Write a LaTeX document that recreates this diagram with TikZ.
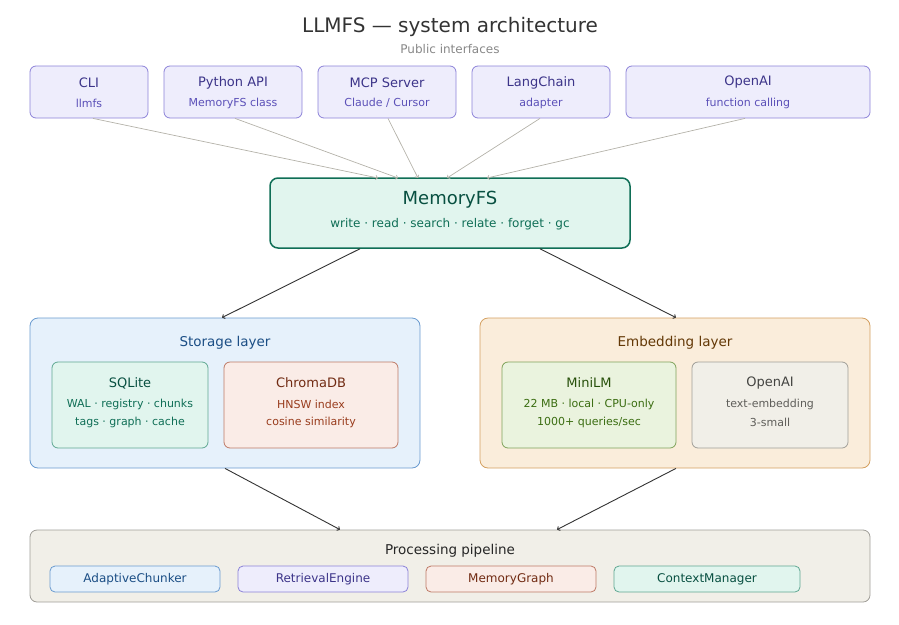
\documentclass[tikz,border=0pt]{standalone}
\usepackage{fontspec}
\setmainfont{DejaVu Sans}
\usetikzlibrary{arrows.meta}
\definecolor{purpfill}{HTML}{EEEDFC}
\definecolor{purpline}{HTML}{8C82D8}
\definecolor{purptext}{HTML}{3C3489}
\definecolor{purpsub}{HTML}{5B50B8}
\definecolor{tealfill}{HTML}{E1F5EE}
\definecolor{tealline}{HTML}{0F6E56}
\definecolor{tealline2}{HTML}{5FA892}
\definecolor{tealtext}{HTML}{085041}
\definecolor{tealsub}{HTML}{0F6E56}
\definecolor{bluefill}{HTML}{E6F1FB}
\definecolor{blueline}{HTML}{6A9BD0}
\definecolor{bluetext}{HTML}{1B4E85}
\definecolor{corfill}{HTML}{FAECE7}
\definecolor{corline}{HTML}{BE7A66}
\definecolor{cortext}{HTML}{712B13}
\definecolor{corsub}{HTML}{993C1D}
\definecolor{ambfill}{HTML}{FAEDDB}
\definecolor{ambline}{HTML}{D4A060}
\definecolor{ambtext}{HTML}{633806}
\definecolor{grnfill}{HTML}{EAF3DE}
\definecolor{grnline}{HTML}{7FA25A}
\definecolor{grntext}{HTML}{27500A}
\definecolor{grnsub}{HTML}{3B6D11}
\definecolor{grayfill}{HTML}{F1EFE8}
\definecolor{grayline}{HTML}{A09E98}
\definecolor{graytext}{HTML}{444441}
\definecolor{graysub}{HTML}{5F5E5A}
\definecolor{conn}{HTML}{B4B2A9}
\definecolor{darkconn}{HTML}{333333}
\tikzset{
  bx/.style={draw, rounded corners=6pt, line width=0.8pt, inner sep=0pt},
  ttl/.style={inner sep=0pt, font=\fontsize{13}{15}\selectfont},
  sub/.style={inner sep=0pt, font=\fontsize{11}{13}\selectfont},
  lite/.style={draw=conn, line width=0.7pt, -{Straight Barb[length=2pt,width=4.5pt]}},
  dark/.style={draw=darkconn, line width=0.9pt, -{Straight Barb[length=2pt,width=4.5pt]}},
}
\begin{document}
\begin{tikzpicture}[x=1pt,y=-1pt]
\useasboundingbox (0,0) rectangle (899,624);
% title
\node[inner sep=0pt, text=black!80, font=\fontsize{20}{24}\selectfont] (title) at (450,27) {LLMFS — system architecture};
\node[inner sep=0pt, text=black!47, font=\fontsize{12}{14}\selectfont] (subtitle) at (450,49.5) {Public interfaces};
% top interface boxes
\foreach \nm/\xa/\xb/\t/\s in {cli/30/148/CLI/llmfs, py/164/302/Python API/MemoryFS class, mcp/318/456/MCP Server/{Claude / Cursor}, lc/472/610/LangChain/adapter, oai/626/870/OpenAI/function calling}{
  \node[bx, draw=purpline, fill=purpfill, minimum width={\xb-\xa}, minimum height=52] (\nm) at ({(\xa+\xb)/2},92) {};
  \node[ttl, text=purptext] (\nm t) at ({(\xa+\xb)/2},82.5) {\t};
  \node[sub, text=purpsub] (\nm s) at ({(\xa+\xb)/2},103) {\s};
}
% MemoryFS
\node[bx, draw=tealline, fill=tealfill, line width=1.5pt, rounded corners=8pt, minimum width=360, minimum height=70] (mfs) at (450,213) {};
\node[inner sep=0pt, text=tealtext, font=\fontsize{18}{21}\selectfont] (mfst) at (450,200) {MemoryFS};
\node[inner sep=0pt, text=tealsub, font=\fontsize{12}{14}\selectfont] (mfss) at (450,224) {write · read · search · relate · forget · gc};
\coordinate (in1) at (378,178);
\coordinate (in2) at (398,178);
\coordinate (in3) at (418,178);
\coordinate (in4) at (447,178);
\coordinate (in5) at (487,178);
\draw[lite] (cli.south -| 93,0) -- (in1);
\draw[lite] (py.south -| 235,0) -- (in2);
\draw[lite] (mcp.south -| 388,0) -- (in3);
\draw[lite] (lc.south -| 540,0) -- (in4);
\draw[lite] (oai.south -| 745,0) -- (in5);
% Storage layer
\node[bx, draw=blueline, fill=bluefill, rounded corners=8pt, minimum width=390, minimum height=150] (stor) at (225,393) {};
\node[ttl, text=bluetext, font=\fontsize{13.5}{16}\selectfont] (stort) at (225,343) {Storage layer};
\node[bx, draw=tealline2, fill=tealfill, minimum width=156, minimum height=86] (sql) at (130,405) {};
\node[ttl, text=tealtext] (sqlt) at (130,383) {SQLite};
\node[sub, text=tealsub] (sqls1) at (130,404.5) {WAL · registry · chunks};
\node[sub, text=tealsub] (sqls2) at (130,422.5) {tags · graph · cache};
\node[bx, draw=corline, fill=corfill, minimum width=174, minimum height=86] (chr) at (311,405) {};
\node[ttl, text=cortext] (chrt) at (311,383) {ChromaDB};
\node[sub, text=corsub] (chrs1) at (311,404.5) {HNSW index};
\node[sub, text=corsub] (chrs2) at (311,422.5) {cosine similarity};
% Embedding layer
\node[bx, draw=ambline, fill=ambfill, rounded corners=8pt, minimum width=390, minimum height=150] (emb) at (675,393) {};
\node[ttl, text=ambtext, font=\fontsize{13.5}{16}\selectfont] (embt) at (675,343) {Embedding layer};
\node[bx, draw=grnline, fill=grnfill, minimum width=174, minimum height=86] (mini) at (589,405) {};
\node[ttl, text=grntext] (minit) at (589,383) {MiniLM};
\node[sub, text=grnsub] (minis1) at (589,404.5) {22 MB · local · CPU-only};
\node[sub, text=grnsub] (minis2) at (589,422.5) {1000+ queries/sec};
\node[bx, draw=grayline, fill=grayfill, minimum width=156, minimum height=86] (oemb) at (770,405) {};
\node[ttl, text=graytext] (oembt) at (770,383) {OpenAI};
\node[sub, text=graysub] (oembs1) at (770,404.5) {text-embedding};
\node[sub, text=graysub] (oembs2) at (770,422.5) {3-small};
% connectors MemoryFS -> layers
\draw[dark] (mfs.south -| 360,0) -- (stor.north -| 222,0);
\draw[dark] (mfs.south -| 540,0) -- (emb.north -| 676,0);
% Pipeline
\node[bx, draw=grayline, fill=grayfill, rounded corners=7pt, minimum width=840, minimum height=72] (pipe) at (450,566) {};
\node[ttl, text=black!85, font=\fontsize{13.5}{16}\selectfont] (pipet) at (450,551) {Processing pipeline};
\node[bx, draw=blueline, fill=bluefill, rounded corners=5pt, minimum width=170, minimum height=26] (ac) at (135,579) {};
\node[sub, text=bluetext, font=\fontsize{12}{14}\selectfont] (act) at (135,579) {AdaptiveChunker};
\node[bx, draw=purpline, fill=purpfill, rounded corners=5pt, minimum width=170, minimum height=26] (re) at (323,579) {};
\node[sub, text=purptext, font=\fontsize{12}{14}\selectfont] (ret) at (323,579) {RetrievalEngine};
\node[bx, draw=corline, fill=corfill, rounded corners=5pt, minimum width=170, minimum height=26] (mg) at (511,579) {};
\node[sub, text=cortext, font=\fontsize{12}{14}\selectfont] (mgt) at (511,579) {MemoryGraph};
\node[bx, draw=tealline2, fill=tealfill, rounded corners=5pt, minimum width=186, minimum height=26] (cm) at (707,579) {};
\node[sub, text=tealtext, font=\fontsize{12}{14}\selectfont] (cmt) at (707,579) {ContextManager};
% connectors layers -> pipeline
\draw[dark] (stor.south -| 225,0) -- (pipe.north -| 340,0);
\draw[dark] (emb.south -| 676,0) -- (pipe.north -| 557,0);
\end{tikzpicture}
\end{document}
